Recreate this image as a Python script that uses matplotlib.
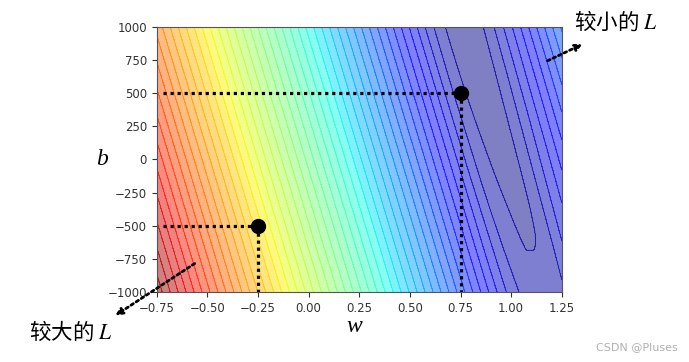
import numpy as np
import matplotlib
matplotlib.use('Agg')
from matplotlib import pyplot as plt

plt.rcParams['mathtext.fontset'] = 'stix'

# daily views: x = previous day, y = next day
x_data = [4460, 3180, 5660, 6140, 4940, 2620, 7180, 5100, 3900, 6460,
          4700, 7820, 5260, 4220, 5900, 3260, 5500, 4780, 5420, 5580,
          3500, 4100, 4500, 4800, 5000, 5200, 5400, 5700, 6000, 6300,
          6600, 3000, 3800, 4400, 5100, 5900, 6900, 7400, 2900, 4900]
y_data = [5262, 2841, 5825, 4690, 5089, 3776, 6065, 4789, 4987, 5347,
          4711, 6105, 5498, 4092, 6250, 3087, 5458, 3948, 5724, 5175,
          3419, 4794, 3617, 4909, 5289, 4476, 5880, 5140, 5688, 5181,
          6396, 2941, 4804, 4364, 4200, 6017, 5966, 7267, 3487, 4393]

w_range = (-0.75, 1.25)
b_range = (-1000, 1000)

# the two example points
pt_w = [0.75, -0.25]
pt_b = [500, -500]

x = np.array(x_data, dtype=float)
y = np.array(y_data, dtype=float)

w = np.linspace(w_range[0], w_range[1], 401)
b = np.linspace(b_range[0], b_range[1], 401)
W, B = np.meshgrid(w, b)
# mean absolute error
L = np.abs(y[None, None, :] - B[:, :, None] - W[:, :, None] * x[None, None, :]).mean(axis=2)

fig = plt.figure(figsize=(6.89, 3.62), dpi=100)
ax = fig.add_axes([0.2274, 0.1934, 0.588, 0.7326])

cf = ax.contourf(W, B, L, 50, cmap='jet', alpha=0.5)
ax.contour(W, B, L, levels=cf.levels, cmap='jet', alpha=0.5, linewidths=0.7)

ax.set_xlim(w_range)
ax.set_ylim(b_range)
ax.set_xticks([-0.75, -0.5, -0.25, 0, 0.25, 0.5, 0.75, 1.0, 1.25])
ax.set_yticks([-1000, -750, -500, -250, 0, 250, 500, 750, 1000])
ax.tick_params(labelsize=8.5, colors='#333333', length=3.5)
for s in ax.spines.values():
    s.set_color('#555555')

dot = dict(color='black', lw=2.3, ls=(0, (1, 1.2)))
for pw, pb in zip(pt_w, pt_b):
    ax.plot([w_range[0] + 0.03, pw], [pb, pb], **dot)
    ax.plot([pw, pw], [pb, b_range[0]], **dot)
ax.plot(pt_w, pt_b, 'o', color='black', markersize=10)

serif_it = dict(family='Liberation Serif', style='italic')
fig.text(0.148, 0.56, 'b', fontsize=17, ha='center', va='center', **serif_it)
fig.text(0.514, 0.098, 'w', fontsize=17, ha='center', va='center', **serif_it)

cjk = ['Noto Sans CJK SC', 'DejaVu Sans']
fig.text(0.833, 0.94, '较小的 $L$', fontsize=15.5, family=cjk, ha='left', va='center')
fig.text(0.042, 0.085, '较大的 $L$', fontsize=15.5, family=cjk, ha='left', va='center')

arrow = dict(arrowstyle='-|>', color='black', lw=2, ls=(0, (1, 1.2)), mutation_scale=10)
ax.annotate('', xy=(585 / 689, 1 - 43 / 362), xytext=(545 / 689, 1 - 62 / 362),
            xycoords='figure fraction', textcoords='figure fraction',
            arrowprops=arrow, annotation_clip=False)
ax.annotate('', xy=(113 / 689, 1 - 317 / 362), xytext=(197 / 689, 1 - 262 / 362),
            xycoords='figure fraction', textcoords='figure fraction',
            arrowprops=arrow, annotation_clip=False)

fig.text(0.983, 0.04, 'CSDN @Pluses', fontsize=8, color='#b0b0b0', ha='right', va='center')

fig.savefig('out.png', dpi=100)
